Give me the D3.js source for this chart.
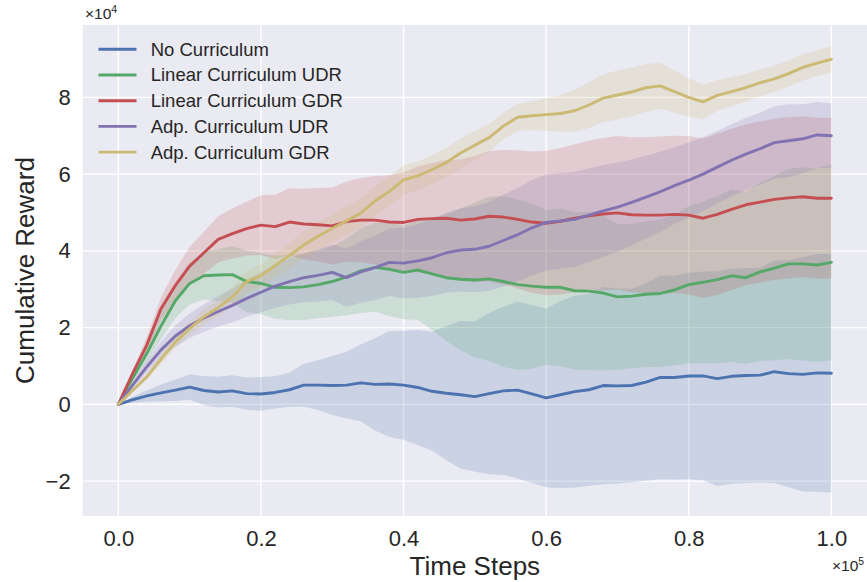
<!DOCTYPE html>
<html><head><meta charset="utf-8">
<script src="https://cdn.jsdelivr.net/npm/d3@7"></script>
<style>
body{margin:0;background:#fff;}
svg{display:block;font-family:"Liberation Sans",Arial,sans-serif;}
</style>
</head><body>
<svg id="chart" width="867" height="582"></svg>
<script>
// time steps (x 1e5)
const steps = [0,0.01,0.02,0.04,0.06,0.08,0.10,0.12,0.14,0.16,0.18,0.20,0.22,0.24,0.26,0.28,0.30,0.32,0.34,0.36,0.38,0.40,0.42,0.44,0.46,0.48,0.50,0.52,0.54,0.56,0.58,0.60,0.62,0.64,0.66,0.68,0.70,0.72,0.74,0.76,0.78,0.80,0.82,0.84,0.86,0.88,0.90,0.92,0.94,0.96,0.98,1.00];

const seriesNames = ["No Curriculum","Linear Curriculum UDR","Linear Curriculum GDR","Adp. Curriculum UDR","Adp. Curriculum GDR"];
const seriesColors = ["#4C72B0","#55A868","#C44E52","#8172B2","#CCB974"];

// cumulative reward means (x 1e4) and band half-widths (x 1e4)
const meanNoCurr = [0,0.06,0.12,0.22,0.30,0.37,0.45,0.36,0.32,0.35,0.28,0.27,0.31,0.38,0.50,0.50,0.49,0.50,0.56,0.52,0.53,0.50,0.44,0.34,0.29,0.25,0.20,0.28,0.35,0.37,0.27,0.17,0.25,0.33,0.38,0.49,0.48,0.49,0.58,0.70,0.70,0.74,0.74,0.67,0.73,0.75,0.76,0.85,0.80,0.78,0.82,0.81];
const bandNoCurr = [0,0.04,0.08,0.15,0.22,0.28,0.33,0.38,0.40,0.41,0.42,0.44,0.42,0.44,0.56,0.65,0.77,0.87,1.00,1.20,1.38,1.42,1.50,1.55,1.75,1.92,1.96,2.10,2.19,2.30,2.32,2.33,2.44,2.50,2.50,2.57,2.54,2.52,2.57,2.65,2.66,2.69,2.72,2.80,2.80,2.80,2.80,2.90,2.96,3.05,3.10,3.11];

const meanLinUDR = [0,0.35,0.68,1.33,2.05,2.70,3.15,3.35,3.37,3.38,3.20,3.15,3.05,3.04,3.06,3.12,3.20,3.32,3.48,3.57,3.52,3.44,3.50,3.40,3.30,3.26,3.24,3.27,3.20,3.12,3.08,3.05,3.05,2.96,2.95,2.90,2.80,2.82,2.87,2.89,2.98,3.12,3.18,3.25,3.35,3.30,3.45,3.55,3.66,3.66,3.63,3.70];
const bandLinUDR = [0,0.05,0.10,0.22,0.35,0.45,0.55,0.62,0.68,0.74,0.80,0.80,0.82,0.85,0.86,0.88,0.92,1.00,1.10,1.16,1.22,1.22,1.30,1.46,1.65,1.85,2.02,2.14,2.22,2.22,2.15,2.02,2.05,2.05,2.06,2.02,1.90,1.88,1.90,1.92,1.96,2.05,2.10,2.18,2.25,2.24,2.32,2.40,2.48,2.52,2.52,2.55];

const meanLinGDR = [0,0.40,0.80,1.55,2.50,3.10,3.60,3.95,4.30,4.45,4.58,4.67,4.63,4.75,4.70,4.68,4.65,4.76,4.80,4.80,4.75,4.74,4.82,4.84,4.85,4.80,4.83,4.90,4.88,4.82,4.75,4.72,4.77,4.85,4.91,4.96,4.99,4.94,4.93,4.93,4.95,4.93,4.85,4.95,5.08,5.20,5.27,5.34,5.38,5.41,5.37,5.37];
const bandLinGDR = [0,0.05,0.10,0.20,0.30,0.40,0.50,0.55,0.60,0.65,0.70,0.78,0.84,0.88,0.92,0.96,1.00,1.05,1.10,1.15,1.22,1.30,1.38,1.45,1.52,1.58,1.64,1.70,1.75,1.80,1.84,1.88,1.91,1.93,1.96,1.98,2.00,2.02,2.03,2.05,2.05,2.06,2.08,2.10,2.10,2.10,2.10,2.10,2.10,2.10,2.10,2.10];

const meanAdpUDR = [0,0.25,0.50,0.98,1.42,1.78,2.05,2.25,2.42,2.58,2.76,2.92,3.08,3.20,3.30,3.36,3.44,3.30,3.45,3.56,3.70,3.68,3.74,3.82,3.95,4.02,4.04,4.12,4.27,4.42,4.60,4.74,4.78,4.82,4.93,5.04,5.14,5.26,5.40,5.54,5.70,5.84,6.00,6.18,6.36,6.52,6.66,6.82,6.87,6.92,7.02,7.00];
const bandAdpUDR = [0,0.04,0.08,0.16,0.22,0.28,0.32,0.36,0.40,0.44,0.48,0.52,0.56,0.60,0.64,0.68,0.72,0.76,0.80,0.84,0.88,0.92,0.96,1.00,1.04,1.08,1.12,1.16,1.20,1.22,1.24,1.25,1.25,1.24,1.22,1.20,1.16,1.12,1.08,1.04,1.00,0.98,0.96,0.95,0.94,0.94,0.94,0.95,0.95,0.90,0.86,0.84];

const meanAdpGDR = [0,0.18,0.36,0.72,1.18,1.62,1.98,2.28,2.52,2.80,3.20,3.35,3.62,3.88,4.15,4.38,4.58,4.78,4.98,5.30,5.55,5.85,5.95,6.12,6.30,6.55,6.75,6.95,7.25,7.48,7.52,7.55,7.58,7.65,7.80,7.98,8.06,8.14,8.25,8.30,8.15,8.00,7.88,8.05,8.15,8.25,8.38,8.48,8.62,8.78,8.89,8.99];
const bandAdpGDR = [0,0.02,0.04,0.08,0.12,0.15,0.18,0.20,0.22,0.25,0.28,0.30,0.32,0.34,0.35,0.36,0.37,0.38,0.38,0.38,0.38,0.38,0.38,0.38,0.38,0.38,0.38,0.36,0.35,0.35,0.38,0.42,0.48,0.55,0.60,0.62,0.64,0.64,0.62,0.60,0.55,0.50,0.45,0.40,0.38,0.36,0.35,0.34,0.34,0.34,0.34,0.34];

const xTicks = [0,0.2,0.4,0.6,0.8,1.0];
const yTicks = [-2,0,2,4,6,8];

const seriesMeans = [meanNoCurr, meanLinUDR, meanLinGDR, meanAdpUDR, meanAdpGDR];
const seriesBands = [bandNoCurr, bandLinUDR, bandLinGDR, bandAdpUDR, bandAdpGDR];

const svg = d3.select("#chart");
const L = 82.7, R = 867, T = 25, B = 516;
const x = d3.scaleLinear().domain([-0.05, 1.05]).range([L, R]);
const y = d3.scaleLinear().domain([-2.91, 9.885]).range([B, T]);

svg.append("rect").attr("x", L).attr("y", T).attr("width", R - L).attr("height", B - T).attr("fill", "#EAEAF2");

const grid = svg.append("g");
grid.selectAll(".gx").data(xTicks).join("line")
  .attr("x1", d => x(d)).attr("x2", d => x(d)).attr("y1", T).attr("y2", B)
  .attr("stroke", "#fff").attr("stroke-width", 1.4);
grid.selectAll(".gy").data(yTicks).join("line")
  .attr("x1", L).attr("x2", R).attr("y1", d => y(d)).attr("y2", d => y(d))
  .attr("stroke", "#fff").attr("stroke-width", 1.4);

svg.append("clipPath").attr("id", "clip").append("rect")
  .attr("x", L).attr("y", T).attr("width", R - L).attr("height", B - T);

const plot = svg.append("g").attr("clip-path", "url(#clip)");

const area = d3.area()
  .x(d => x(d.t)).y0(d => y(d.m - d.s)).y1(d => y(d.m + d.s));
const line = d3.line().x(d => x(d.t)).y(d => y(d.m));

const data = seriesMeans.map((ms, i) => steps.map((t, j) => ({t, m: ms[j], s: seriesBands[i][j]})));

data.forEach((d, i) => {
  plot.append("path").datum(d).attr("d", area)
    .attr("fill", seriesColors[i]).attr("fill-opacity", 0.2).attr("stroke", "none");
});
data.forEach((d, i) => {
  plot.append("path").datum(d).attr("d", line)
    .attr("fill", "none").attr("stroke", seriesColors[i]).attr("stroke-width", 2.9)
    .attr("stroke-linejoin", "round").attr("stroke-linecap", "round");
});

// axes
const xAxis = d3.axisBottom(x).tickValues(xTicks).tickFormat(d3.format(".1f")).tickSize(0).tickPadding(14);
const gx = svg.append("g").attr("transform", `translate(0,${B})`).call(xAxis);
gx.select(".domain").remove();
gx.selectAll("text").attr("font-size", 22).attr("fill", "#262626").attr("font-family", "Liberation Sans, Arial, sans-serif");

const yAxis = d3.axisLeft(y).tickValues(yTicks).tickFormat(d3.format("d")).tickSize(0).tickPadding(12);
const gy = svg.append("g").attr("transform", `translate(${L},0)`).call(yAxis);
gy.select(".domain").remove();
gy.selectAll("text").attr("font-size", 22).attr("fill", "#262626").attr("font-family", "Liberation Sans, Arial, sans-serif");

// axis labels
svg.append("text").attr("x", (L + R) / 2).attr("y", 575).attr("text-anchor", "middle")
  .attr("font-size", 26).attr("fill", "#262626").text("Time Steps");
svg.append("text").attr("transform", `translate(34,${(T + B) / 2}) rotate(-90)`).attr("text-anchor", "middle")
  .attr("font-size", 26).attr("fill", "#262626").text("Cumulative Reward");

// offset texts
const off1 = svg.append("text").attr("x", 85).attr("y", 19).attr("font-size", 15.5).attr("fill", "#262626");
off1.append("tspan").text("×10");
off1.append("tspan").attr("font-size", 10.5).attr("dy", -6).text("4");
const off2 = svg.append("text").attr("x", 832).attr("y", 571).attr("font-size", 15.5).attr("fill", "#262626");
off2.append("tspan").text("×10");
off2.append("tspan").attr("font-size", 10.5).attr("dy", -6).text("5");

// legend
const lg = svg.append("g");
seriesNames.forEach((name, i) => {
  const cy = 49.3 + i * 25.7;
  lg.append("line").attr("x1", 98.5).attr("x2", 136.5).attr("y1", cy).attr("y2", cy)
    .attr("stroke", seriesColors[i]).attr("stroke-width", 2.9);
  lg.append("text").attr("x", 150.7).attr("y", cy).attr("dy", "0.35em")
    .attr("font-size", 18.5).attr("fill", "#262626").text(name);
});
</script>
</body></html>
